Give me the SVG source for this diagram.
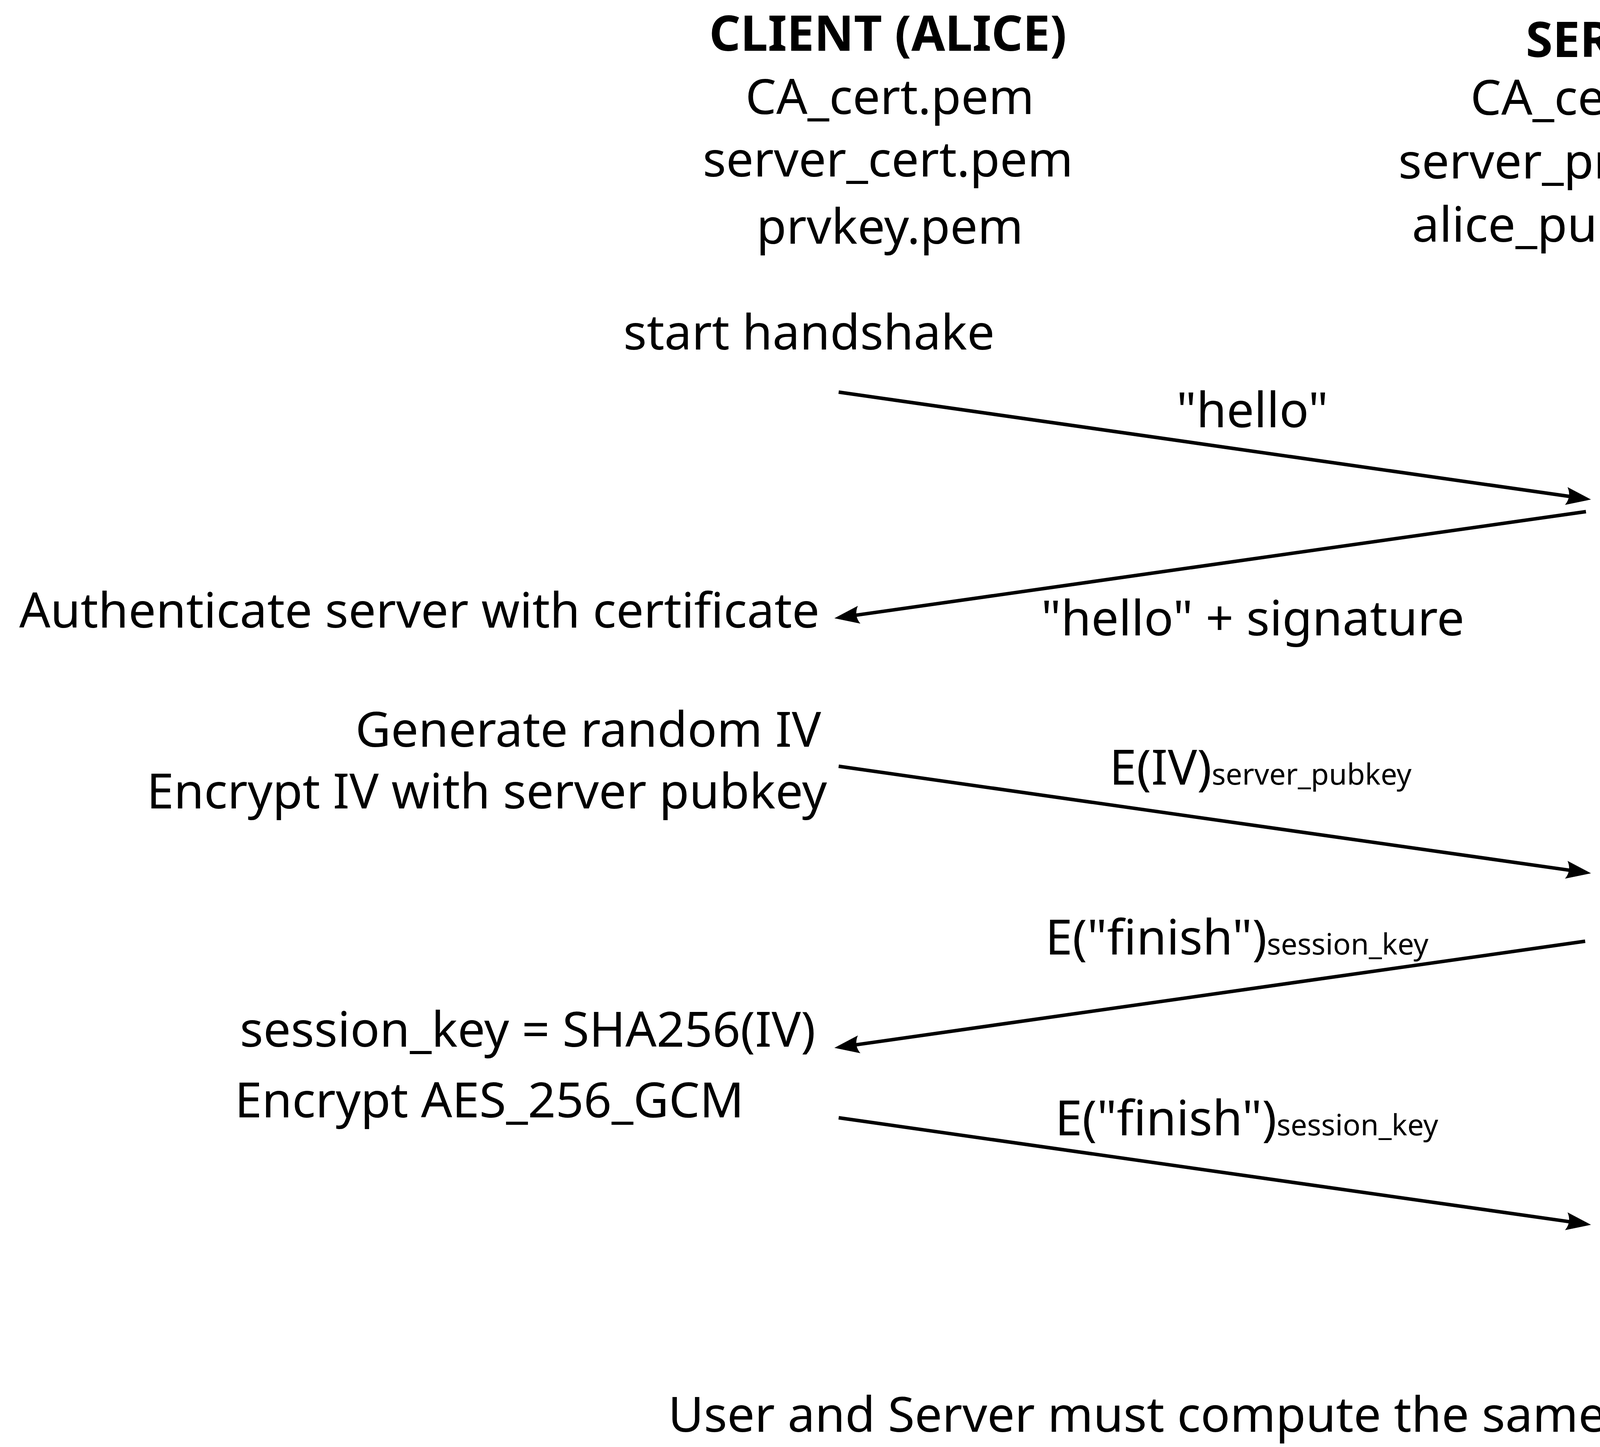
<svg xmlns="http://www.w3.org/2000/svg" width="5754" height="3705" viewBox="0 0 5754 3705">
<style>
text{font-family:"Noto Sans","Open Sans","DejaVu Sans",sans-serif;font-size:125px;fill:#000}
.b{font-weight:bold}
.m{text-anchor:middle}
.e{text-anchor:end}
.sub{font-size:75px}
.c{stroke:#000;stroke-width:9;fill:none;marker-end:url(#ah)}
</style>
<defs>
<marker id="ah" markerUnits="userSpaceOnUse" viewBox="-40 -35 90 70" markerWidth="90" markerHeight="70" refX="0" refY="0" orient="auto">
<path d="M40,0 L-24,-23 Q-10,0 -24,23 Z" fill="#000"/>
</marker>
</defs>
<rect width="5754" height="3705" fill="#fff"/>
<g id="client-header">
<text class="b m" x="2273" y="130">CLIENT (ALICE)</text>
<text class="m" x="2278" y="292">CA_cert.pem</text>
<text class="m" x="2273" y="452">server_cert.pem</text>
<text class="m" x="2278" y="624">prvkey.pem</text>
</g>
<g id="server-header">
<text class="b m" x="4133" y="146">SERVER</text>
<text class="m" x="4134" y="294">CA_cert.pem</text>
<text class="m" x="4133" y="457">server_prvkey.pem</text>
<text class="m" x="4136" y="619">alice_pubkey.pem</text>
</g>
<g id="start-handshake"><text class="m" x="2071" y="895">start handshake</text></g>
<g id="sign"><text x="4168" y="1320">Sign with rsa prvkey</text></g>
<g id="authenticate"><text class="e" x="2098" y="1607">Authenticate server with certificate</text></g>
<g id="generate-iv">
<text class="e" x="2102" y="1912">Generate random IV</text>
<text class="e" x="2117" y="2070">Encrypt IV with server pubkey</text>
</g>
<g id="server-decrypt">
<text x="4188" y="2133">Decrypt IV with rsa prvkey</text>
<text x="4193" y="2324">session_key = SHA256(IV)</text>
<text x="4188" y="2506">Encrypt AES_256_GCM</text>
</g>
<g id="client-session">
<text x="614" y="2680">session_key = SHA256(IV)</text>
<text x="601" y="2861">Encrypt AES_256_GCM</text>
</g>
<g id="finish-handshake"><text x="4186" y="3178">finish handshake</text></g>
<g id="connectors">
<line class="c" x1="2147" y1="1004" x2="4033.4" y2="1273.3"/>
<line class="c" x1="4060" y1="1310" x2="2175.6" y2="1577.4"/>
<line class="c" x1="2147" y1="1962" x2="4033.4" y2="2230.4"/>
<line class="c" x1="4058" y1="2410" x2="2175.6" y2="2677.4"/>
<line class="c" x1="2147" y1="2862" x2="4033.4" y2="3130.4"/>
<text class="m" x="3206" y="1094">"hello"</text>
<text class="m" x="3207" y="1627">"hello" + signature</text>
<text x="2840" y="2009">E(IV)<tspan class="sub">server_pubkey</tspan></text>
<text x="2676" y="2444">E("finish")<tspan class="sub">session_key</tspan></text>
<text x="2701" y="2907">E("finish")<tspan class="sub">session_key</tspan></text>
</g>
<g id="footer"><text class="m" x="3260" y="3666">User and Server must compute the same session key</text></g>
</svg>
